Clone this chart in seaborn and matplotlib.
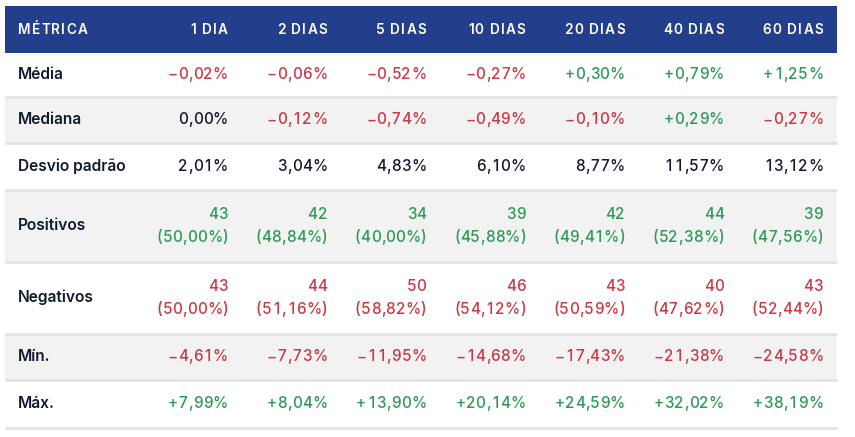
import matplotlib
matplotlib.use("Agg")
import matplotlib.pyplot as plt
from matplotlib.font_manager import FontProperties, findfont, get_font
import seaborn as sns

# dados da tabela
colunas = ["1 DIA", "2 DIAS", "5 DIAS", "10 DIAS", "20 DIAS", "40 DIAS", "60 DIAS"]
metricas = ["Média", "Mediana", "Desvio padrão", "Positivos", "Negativos", "Mín.", "Máx."]

media = [-0.02, -0.06, -0.52, -0.27, 0.30, 0.79, 1.25]
mediana = [0.00, -0.12, -0.74, -0.49, -0.10, 0.29, -0.27]
desvio = [2.01, 3.04, 4.83, 6.10, 8.77, 11.57, 13.12]
positivos_n = [43, 42, 34, 39, 42, 44, 39]
positivos_pct = [50.00, 48.84, 40.00, 45.88, 49.41, 52.38, 47.56]
negativos_n = [43, 44, 50, 46, 43, 40, 43]
negativos_pct = [50.00, 51.16, 58.82, 54.12, 50.59, 47.62, 52.44]
minimo = [-4.61, -7.73, -11.95, -14.68, -17.43, -21.38, -24.58]
maximo = [7.99, 8.04, 13.90, 20.14, 24.59, 32.02, 38.19]

AZUL = "#233f8b"
VERMELHO = "#c93a44"
VERDE = "#2e9a58"
ESCURO = "#111a2e"
CINZA = "#f2f2f2"
LINHA = "#e3e3e3"

sns.set_theme(style="white")
plt.rcParams["font.family"] = ["Inter", "DejaVu Sans"]
DPI = 100


def fmt(v, sinal=True):
    s = f"{abs(v):.2f}".replace(".", ",") + "%"
    if not sinal:
        return s, ESCURO
    if v > 0:
        return "+" + s, VERDE
    if v < 0:
        return "\u2212" + s, VERMELHO
    return s, ESCURO


fig = plt.figure(figsize=(8.55, 4.37), dpi=DPI)
ax = fig.add_axes([0, 0, 1, 1])
ax.set_xlim(0, 855)
ax.set_ylim(437, 0)
ax.axis("off")


def avancos(s, prop):
    # largura de avanço de cada letra (em pixels)
    font = get_font(findfont(prop))
    font.set_size(prop.get_size_in_points(), DPI)
    return [font.load_char(ord(ch)).linearHoriAdvance / 65536 for ch in s]


def texto(x, y, s, cor, tam, peso, ha="left", track=0.0, tabular=False):
    # letra por letra, para imitar o espaçamento e os algarismos tabulares
    prop = FontProperties(family="Inter", size=tam, weight=peso)
    adv = avancos(s, prop)
    wd = avancos("0", prop)[0]
    slots = [wd if (tabular and ch.isdigit()) else a for ch, a in zip(s, adv)]
    total = sum(slots) + track * (len(s) - 1)
    cx = x - total if ha == "right" else x
    for ch, a, slot in zip(s, adv, slots):
        if ch != " ":
            ax.text(cx + (slot - a) / 2, y, ch, color=cor, fontproperties=prop,
                    va="baseline", ha="left")
        cx += slot + track


x0, x1 = 5, 837
col_right = [228 + i * 99.2 for i in range(len(colunas))]
label_x = 18

# cabeçalho
top, head_h = 6, 46.5
ax.add_patch(plt.Rectangle((x0, top), x1 - x0, head_h, color=AZUL, lw=0))
hy = top + head_h / 2 + 5
texto(label_x, hy, "MÉTRICA", "white", 9.8, "semibold", track=1.2)
for xr, c in zip(col_right, colunas):
    texto(xr, hy, c, "white", 9.8, "semibold", ha="right", track=1.2)

alturas = [44.5, 46, 47, 72, 72, 46, 48]
linhas = [
    [[fmt(v)] for v in media],
    [[fmt(v)] for v in mediana],
    [[fmt(v, sinal=False)] for v in desvio],
    [[(str(n), VERDE), ("(" + fmt(p, False)[0] + ")", VERDE)]
     for n, p in zip(positivos_n, positivos_pct)],
    [[(str(n), VERMELHO), ("(" + fmt(p, False)[0] + ")", VERMELHO)]
     for n, p in zip(negativos_n, negativos_pct)],
    [[fmt(v)] for v in minimo],
    [[fmt(v)] for v in maximo],
]

y = top + head_h
for i, (nome, h, vals) in enumerate(zip(metricas, alturas, linhas)):
    if i % 2 == 1:
        ax.add_patch(plt.Rectangle((x0, y), x1 - x0, h, color=CINZA, lw=0))
    ax.plot([x0, x1], [y + h, y + h], color=LINHA, lw=2, solid_capstyle="butt")
    base = y + h / 2 + 4.3
    ax.text(label_x, base, nome, color=ESCURO, fontsize=11.2, fontweight="semibold",
            va="baseline", ha="left")
    for xr, partes in zip(col_right, vals):
        n = len(partes)
        for k, (txt, cor) in enumerate(partes):
            dy = (k - (n - 1) / 2) * 23.4
            texto(xr, base + dy, txt, cor, 11, "medium", ha="right", track=0.15, tabular=True)
    y += h

fig.savefig("out.png", dpi=DPI)
